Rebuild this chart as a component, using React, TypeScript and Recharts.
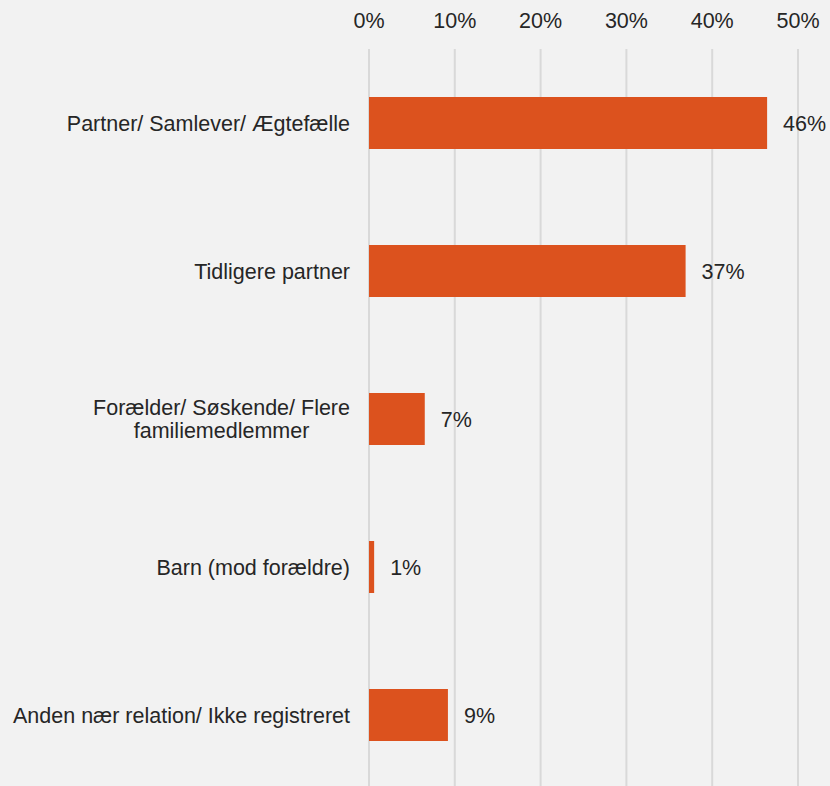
import * as React from 'react';
import { Bar, BarChart, CartesianGrid, LabelList, XAxis, YAxis } from 'recharts';

// Relation categories (top to bottom); "\n" marks a wrapped label
const categories = [
  'Partner/ Samlever/ Ægtefælle',
  'Tidligere partner',
  'Forælder/ Søskende/ Flere\nfamiliemedlemmer',
  'Barn (mod forældre)',
  'Anden nær relation/ Ikke registreret',
];

// Share of cases, in percent
const shares = [46.4, 36.9, 6.5, 0.6, 9.2];

const xTicks = [0, 10, 20, 30, 40, 50];

const BG = '#F2F2F2';
const BAR = '#DC521E';
const GRID = '#D9D9D9';
const TEXT = '#262626';
const FONT = '"Liberation Sans", Arial, sans-serif';
const FONT_SIZE = 21.5;

const data = categories.map((name, i) => ({ name, value: shares[i] }));

let measureCtx: CanvasRenderingContext2D | null = null;
function textWidth(s: string): number {
  if (!measureCtx) {
    measureCtx = document.createElement('canvas').getContext('2d');
  }
  if (!measureCtx) return s.length * FONT_SIZE * 0.5;
  measureCtx.font = `${FONT_SIZE}px ${FONT}`;
  return measureCtx.measureText(s).width;
}

// Category tick: single lines right-aligned, wrapped labels centred as a block
function CategoryTick(props: any) {
  const { x, y, payload } = props;
  const lines: string[] = String(payload.value).split('\n');
  const lineHeight = 23;
  const startY = y - ((lines.length - 1) * lineHeight) / 2;
  if (lines.length === 1) {
    return (
      <text x={x} y={y} dy="0.35em" textAnchor="end" fill={TEXT} fontSize={FONT_SIZE} fontFamily={FONT}>
        {lines[0]}
      </text>
    );
  }
  const block = Math.max(...lines.map(textWidth));
  const cx = x - block / 2;
  return (
    <text textAnchor="middle" fill={TEXT} fontSize={FONT_SIZE} fontFamily={FONT}>
      {lines.map((line, i) => (
        <tspan key={i} x={cx} y={startY + i * lineHeight} dy="0.35em">
          {line}
        </tspan>
      ))}
    </text>
  );
}

export default function App() {
  return (
    <div
      style={{
        position: 'fixed',
        left: 0,
        top: 0,
        width: 830,
        height: 786,
        overflow: 'hidden',
        background: BG,
      }}
    >
      <BarChart
        width={830}
        height={790}
        data={data}
        layout="vertical"
        margin={{ top: 0, right: 32, left: 0, bottom: 1 }}
        barSize={52}
      >
        <CartesianGrid horizontal={false} stroke={GRID} strokeWidth={2} />
        <XAxis
          type="number"
          orientation="top"
          domain={[0, 50]}
          ticks={xTicks}
          height={49}
          axisLine={false}
          tickLine={false}
          tickSize={0}
          tickMargin={21}
          tickFormatter={(v: number) => `${v}%`}
          tick={{ fill: TEXT, fontSize: FONT_SIZE, fontFamily: FONT }}
        />
        <YAxis
          type="category"
          dataKey="name"
          width={369}
          axisLine={false}
          tickLine={false}
          tickSize={0}
          tickMargin={19}
          tick={<CategoryTick />}
        />
        <Bar dataKey="value" fill={BAR} isAnimationActive={false}>
          <LabelList
            dataKey="value"
            position="right"
            offset={16}
            formatter={(v: number) => `${Math.round(v)}%`}
            fill={TEXT}
            fontSize={FONT_SIZE}
            fontFamily={FONT}
          />
        </Bar>
      </BarChart>
    </div>
  );
}
